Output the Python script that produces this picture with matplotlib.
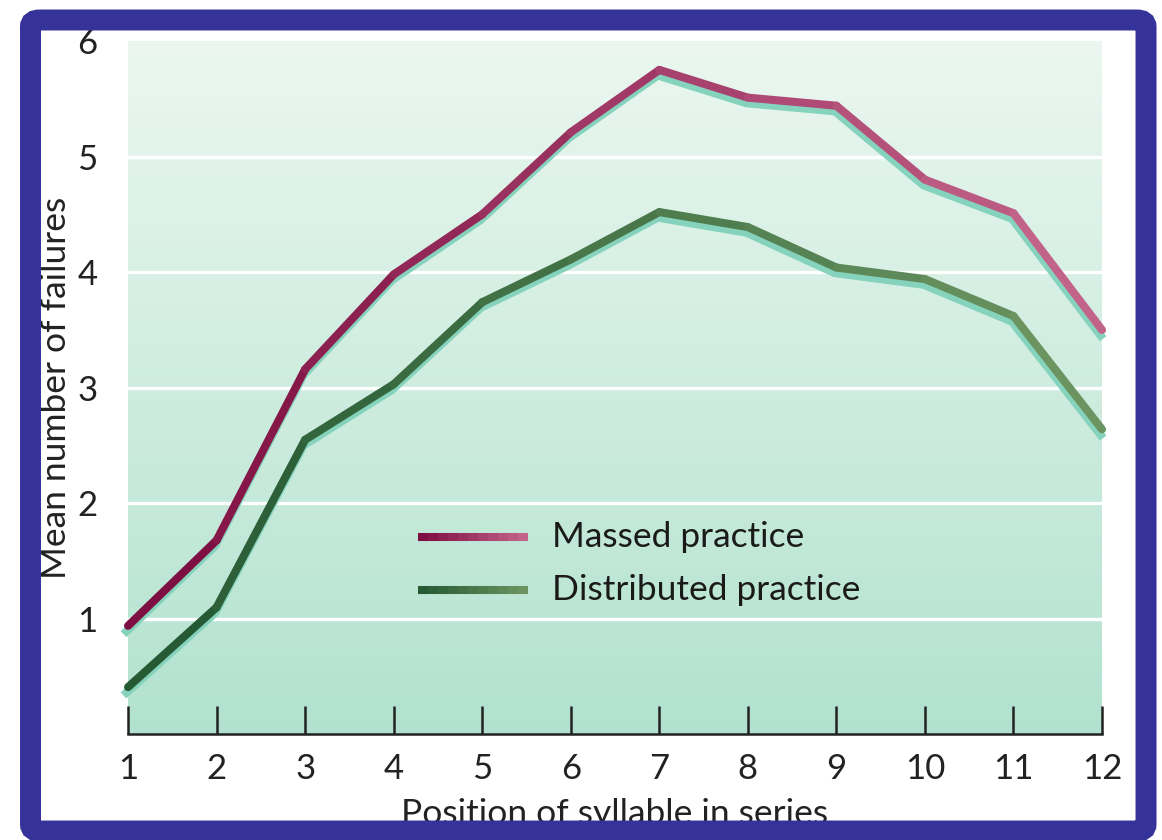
import numpy as np
import matplotlib.pyplot as plt
from matplotlib.collections import LineCollection
from matplotlib.patches import FancyBboxPatch
from matplotlib.colors import LinearSegmentedColormap
import matplotlib.transforms as mtransforms

plt.rcParams['font.family'] = ['Lato', 'DejaVu Sans']

# дані
positions = [1, 2, 3, 4, 5, 6, 7, 8, 9, 10, 11, 12]
massed = [0.94, 1.68, 3.16, 3.98, 4.50, 5.21, 5.75, 5.51, 5.44, 4.80, 4.51, 3.50]
distributed = [0.41, 1.10, 2.55, 3.03, 3.74, 4.11, 4.52, 4.39, 4.04, 3.94, 3.62, 2.64]
y_ticks = [1, 2, 3, 4, 5, 6]
series_names = ['Massed practice', 'Distributed practice']

fig = plt.figure(figsize=(11.62, 8.4), dpi=100)
ax = fig.add_axes([0.1102, 0.1256, 0.8382, 0.8256])

# градієнтний фон
bg = LinearSegmentedColormap.from_list('bg', ['#b2e2cf', '#ebf7f0'])
grad = np.linspace(0, 1, 256).reshape(-1, 1)
ax.imshow(grad, cmap=bg, origin='lower', aspect='auto',
          extent=[1, 12, 0, 6], zorder=0)

for yv in y_ticks[:-1]:
    ax.axhline(yv, color='white', lw=2.4, zorder=1)

shadow = mtransforms.offset_copy(ax.transData, fig=fig, x=-1.5, y=-5.5, units='dots')


def gradient_line(y, c_start, c_end):
    x = np.array(positions)
    y = np.array(y)
    ax.plot(x, y, color='#86d3bd', lw=6, transform=shadow, zorder=2,
            solid_joinstyle='miter', clip_on=False)
    pts = np.column_stack([x, y]).reshape(-1, 1, 2)
    segs = np.concatenate([pts[:-1], pts[1:]], axis=1)
    cmap = LinearSegmentedColormap.from_list('l', [c_start, c_end])
    cols = cmap(np.linspace(0, 1, len(segs)))
    lc = LineCollection(segs, colors=cols, linewidths=5.8, zorder=3,
                        capstyle='round', clip_on=False)
    ax.add_collection(lc)


gradient_line(massed, '#7e0f42', '#c2638a')
gradient_line(distributed, '#265a34', '#6b9460')

# легенда
leg_y = [0.285, 0.208]
leg_cols = [('#7e0f42', '#c2638a'), ('#265a34', '#6b9460')]
for name, ly, (c1, c2) in zip(series_names, leg_y, leg_cols):
    xs = np.linspace(0.298, 0.411, 12)
    segs = [[(xs[i], ly), (xs[i + 1], ly)] for i in range(len(xs) - 1)]
    cmap = LinearSegmentedColormap.from_list('l', [c1, c2])
    lc = LineCollection(segs, colors=cmap(np.linspace(0, 1, len(segs))),
                        linewidths=5.8, transform=ax.transAxes, zorder=4)
    ax.add_collection(lc)
    ax.text(0.435, ly, name, transform=ax.transAxes, fontsize=25.5,
            va='center', ha='left', color='#1a1a1a', zorder=4)

ax.set_xlim(1, 12)
ax.set_ylim(0, 6)
ax.set_xticks(positions)
ax.set_yticks(y_ticks)
ax.tick_params(axis='x', direction='in', length=20, width=1.8, color='#222222',
               labelsize=25, pad=13, labelcolor='#222222')
ax.tick_params(axis='y', length=0, labelsize=25, pad=22, labelcolor='#222222')
for s in ['top', 'right', 'left']:
    ax.spines[s].set_visible(False)
ax.spines['bottom'].set_color('#222222')
ax.spines['bottom'].set_linewidth(1.8)
ax.spines['bottom'].set_zorder(5)

ax.set_xlabel('Position of syllable in series', fontsize=25.5, labelpad=10, color='#222222')
ax.set_ylabel('Mean number of failures', fontsize=25.5, labelpad=4, color='#222222')

# синя рамка (низ частково виходить за край, як в оригіналі)
frame = FancyBboxPatch((0.02625, 0.0107), 0.96, 0.9655,
                       boxstyle='round,pad=0,rounding_size=0.008',
                       transform=fig.transFigure, facecolor='none',
                       edgecolor='#35339a', linewidth=15.1, zorder=10)
fig.patches.append(frame)

fig.savefig('out.png', dpi=100)
